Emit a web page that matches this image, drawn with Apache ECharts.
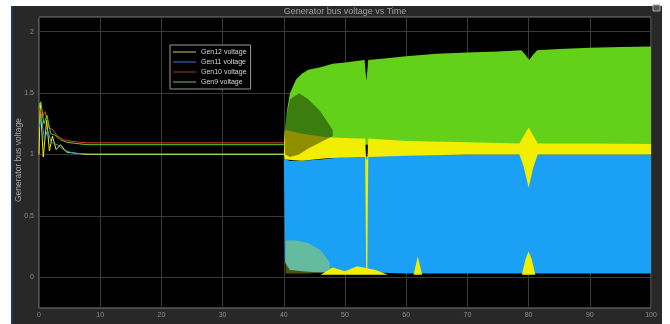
<!DOCTYPE html>
<html>
<head>
<meta charset="utf-8">
<script src="https://cdn.jsdelivr.net/npm/echarts@6/dist/echarts.min.js"></script>
<style>
html,body{margin:0;padding:0;background:#fff;}
#chart{width:670px;height:324px;}
</style>
</head>
<body>
<div id="chart"></div>
<script>
// ---- data ----
const seriesNames = ['Gen12 voltage', 'Gen11 voltage', 'Gen10 voltage', 'Gen9 voltage'];
const xTicks = [0, 10, 20, 30, 40, 50, 60, 70, 80, 90, 100];
const yTickLabels = ['0', '0.5', '1', '1.5', '2'];

// transient (t < 40) traces: [time, voltage]
const gen12Line = [[0,1.0],[0.2,1.42],[0.7,0.98],[1.25,1.28],[1.7,1.03],[2.2,1.15],[2.8,1.04],[3.5,1.08],[4.5,1.02],[6,1.01],[8,1.0],[40,1.0]];
const gen11Line = [[0,1.22],[0.4,1.3],[0.9,1.12],[1.4,1.2],[2,1.1],[3,1.08],[4,1.04],[5,1.02],[6,1.01],[8,1.005],[40,1.005]];
const gen10Line = [[0,1.4],[0.5,1.3],[1,1.35],[1.6,1.22],[2.3,1.2],[3,1.15],[4,1.12],[5,1.11],[6.5,1.1],[8,1.095],[40,1.095]];
const gen9Line  = [[0,1.38],[0.3,1.43],[0.8,1.25],[1.3,1.32],[1.9,1.17],[2.6,1.16],[3.5,1.12],[4.5,1.1],[6,1.09],[8,1.08],[40,1.08]];

// oscillation envelopes after t = 40 (min / max of each fast-oscillating trace)
const gen11BandT  = [40, 40.2, 41, 43, 46, 48, 50, 55, 60, 70, 80, 90, 100];
const gen11BandHi = [1.0, 0.96, 0.95, 0.95, 0.96, 0.97, 0.98, 0.99, 1.0, 1.0, 1.0, 1.0, 1.0];
const gen11BandLo = [1.0, 0.12, 0.06, 0.05, 0.04, 0.04, 0.04, 0.04, 0.03, 0.03, 0.03, 0.03, 0.03];

const gen9BandT  = [40, 40.2, 40.6, 41, 42, 43, 44, 46, 48, 50, 53.2, 53.5, 53.8, 56, 60, 65, 70, 75, 78.8, 79.5, 80.1, 80.7, 81.4, 85, 90, 95, 100];
const gen9BandHi = [1.08, 1.22, 1.38, 1.5, 1.61, 1.66, 1.69, 1.71, 1.74, 1.75, 1.77, 1.6, 1.77, 1.78, 1.8, 1.82, 1.83, 1.84, 1.85, 1.81, 1.77, 1.81, 1.85, 1.86, 1.87, 1.875, 1.88];
const gen9BandLo = [1.08, 1.08, 1.08, 1.08, 1.08, 1.08, 1.08, 1.08, 1.08, 1.08, 1.08, 1.08, 1.08, 1.08, 1.08, 1.08, 1.08, 1.08, 1.08, 1.08, 1.08, 1.08, 1.08, 1.08, 1.08, 1.08, 1.08];

const gen12BandT  = [40, 40.2, 43, 47, 52, 53.3, 53.45, 53.65, 53.8, 60, 70, 78.5, 79.2, 80, 80.8, 81.5, 90, 100];
const gen12BandLo = [1.0, 0.96, 0.95, 0.97, 0.98, 0.98, 0.05, 0.05, 0.98, 0.99, 1.0, 1.0, 0.9, 0.73, 0.9, 1.0, 1.0, 1.0];
const gen12BandHi = [1.0, 1.2, 1.17, 1.14, 1.13, 1.13, 0.96, 0.96, 1.13, 1.11, 1.1, 1.09, 1.15, 1.22, 1.15, 1.09, 1.09, 1.085];

// Gen12 excursions down to the floor (yellow bumps near 0)
const gen12LowT  = [46, 48, 50, 52, 55, 57, 61.2, 61.9, 62.6, 78.9, 79.5, 80, 80.5, 81.1];
const gen12LowLo = [0.02, 0.02, 0.02, 0.02, 0.02, 0.02, 0.02, 0.02, 0.02, 0.02, 0.02, 0.02, 0.02, 0.02];
const gen12LowHi = [0.02, 0.08, 0.05, 0.09, 0.06, 0.02, 0.02, 0.17, 0.02, 0.02, 0.15, 0.21, 0.15, 0.02];

// Gen12 streaks mixed into the lower Gen11 band (partial coverage)
const gen12MixT  = [40.3, 42, 44, 46, 47.5];
const gen12MixLo = [0.03, 0.03, 0.03, 0.04, 0.05];
const gen12MixHi = [0.3, 0.3, 0.28, 0.22, 0.12];

// dark gaps inside the bands (black background showing through)
const gapT  = [40.2, 41, 42.5, 44, 46, 48];
const gapLo = [1.0, 0.98, 1.0, 1.05, 1.1, 1.15];
const gapHi = [1.25, 1.45, 1.5, 1.45, 1.35, 1.2];

const colors = { gen12: '#f2ee00', gen11: '#1aa0f5', gen10: '#d9442a', gen9: '#63d11a' };

// ---- chart ----
const chart = echarts.init(document.getElementById('chart'), null, { renderer: 'canvas' });

function band(name, T, lo, hi, fill, z) {
  return {
    type: 'custom', name: name, z: z, silent: true, clip: true,
    itemStyle: { color: fill },
    data: [[T[0], lo[0]]],
    renderItem: function (params, api) {
      const up = T.map((t, i) => api.coord([t, hi[i]]));
      const dn = T.map((t, i) => api.coord([t, lo[i]])).reverse();
      return { type: 'polygon', shape: { points: up.concat(dn) }, style: { fill: fill } };
    }
  };
}
function line(name, data, color) {
  return { type: 'line', name: name, data: data, showSymbol: false, symbol: 'none',
    lineStyle: { width: 1, color: color }, itemStyle: { color: color }, z: 3 };
}

const FONT = 'Liberation Sans, Arial, sans-serif';

const option = {
  animation: false,
  backgroundColor: '#ffffff',
  graphic: [
    { type: 'rect', z: -10, shape: { x: 11, y: 6, width: 651, height: 318 }, style: { fill: '#282828' } },
    { type: 'rect', z: -9, shape: { x: 11, y: 6, width: 2, height: 318 }, style: { fill: '#1d3858' } },
    { type: 'rect', z: 10, shape: { x: 653, y: 5, width: 7, height: 6 }, style: { fill: '#555', stroke: '#aaa', lineWidth: 1 } },
    { type: 'text', z: 10, x: 345, y: 7, style: { text: 'Generator bus voltage vs Time', fill: '#a0a0a0', font: '9px ' + FONT, textAlign: 'center' } },
    { type: 'text', z: 10, x: 14, y: 160, rotation: Math.PI / 2, style: { text: 'Generator bus voltage', fill: '#a8a8a8', font: '8.5px ' + FONT, textAlign: 'center', textVerticalAlign: 'top' } }
  ],
  legend: {
    left: 170, top: 45, orient: 'vertical',
    icon: 'rect', itemWidth: 23, itemHeight: 1, itemGap: 2,
    padding: [3, 4, 3, 3],
    backgroundColor: '#000', borderColor: '#9a9a9a', borderWidth: 1, borderRadius: 0,
    textStyle: { color: '#d8d8d8', fontSize: 7, fontFamily: FONT, lineHeight: 8 },
    data: [
      { name: seriesNames[0], itemStyle: { color: '#c8c870' } },
      { name: seriesNames[1], itemStyle: { color: '#3c78c8' } },
      { name: seriesNames[2], itemStyle: { color: '#9a3a2a' } },
      { name: seriesNames[3], itemStyle: { color: '#78b478' } }
    ],
    selectedMode: false
  },
  grid: { left: 39, right: 19, top: 17, bottom: 16, show: true, backgroundColor: '#000', borderColor: '#7a7a7a', borderWidth: 1 },
  xAxis: {
    type: 'value', min: 0, max: 100, interval: 10,
    axisLine: { show: false }, axisTick: { show: false },
    axisLabel: { color: '#8f8f8f', fontSize: 7, fontFamily: FONT, margin: 4,
      formatter: v => (xTicks.indexOf(v) >= 0 ? String(v) : '') },
    splitLine: { show: true, lineStyle: { color: '#3a3a3a', width: 1 } }
  },
  yAxis: {
    type: 'value', min: -0.25, max: 2.12, interval: 0.25,
    axisLine: { show: false }, axisTick: { show: false },
    axisLabel: { color: '#8f8f8f', fontSize: 7, fontFamily: FONT, margin: 5,
      formatter: v => { const s = String(Math.round(v * 100) / 100); return yTickLabels.indexOf(s) >= 0 ? s : ''; } },
    splitLine: { show: true, lineStyle: { color: ['rgba(0,0,0,0)', '#3a3a3a'], width: 1 } }
  },
  series: [
    line(seriesNames[0], gen12Line, colors.gen12),
    line(seriesNames[1], gen11Line, colors.gen11),
    line(seriesNames[2], gen10Line, colors.gen10),
    line(seriesNames[3], gen9Line, colors.gen9),
    band(seriesNames[1], gen11BandT, gen11BandLo, gen11BandHi, colors.gen11, 2),
    band(seriesNames[0], gen12MixT, gen12MixLo, gen12MixHi, 'rgba(242,238,0,0.35)', 2),
    band(seriesNames[0], gen12LowT, gen12LowLo, gen12LowHi, colors.gen12, 2),
    band(seriesNames[3], gen9BandT, gen9BandLo, gen9BandHi, colors.gen9, 2),
    band(seriesNames[0], gen12BandT, gen12BandLo, gen12BandHi, colors.gen12, 2),
    band('gap', gapT, gapLo, gapHi, 'rgba(0,0,0,0.4)', 2)
  ]
};
chart.setOption(option);
</script>
</body>
</html>
